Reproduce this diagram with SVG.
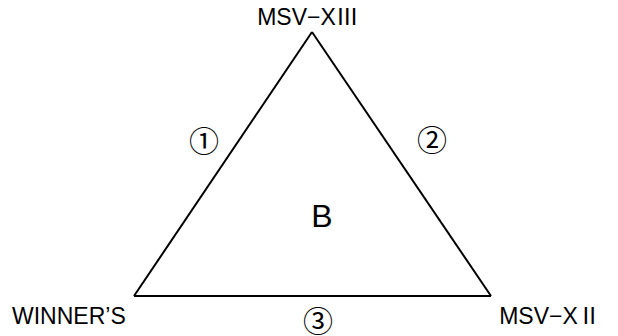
<svg xmlns="http://www.w3.org/2000/svg" width="618" height="336" viewBox="0 0 618 336">
<style>
text{font-family:"Liberation Sans","Noto Sans CJK JP",sans-serif;fill:#000;font-size:23px}
.c{font-family:"Noto Sans CJK JP",sans-serif;font-size:30px}
.r{font-family:"Noto Sans CJK JP",sans-serif}
.e{fill:none;stroke:#000;stroke-width:2}
</style>
<rect width="618" height="336" fill="#fff"/>
<g id="connectors">
<path class="e" d="M312,32 L134,296"/>
<path class="e" d="M312,32 L491,296"/>
<path class="e" d="M134,296 L491,296"/>
</g>
<g id="top"><text x="308" y="25" text-anchor="middle">MSV−X<tspan class="r">Ⅲ</tspan></text></g>
<g id="left"><text x="12" y="324">WINNER’S</text></g>
<g id="right"><text x="550" y="324" text-anchor="middle">MSV−X<tspan class="r">Ⅱ</tspan></text></g>
<g id="e1"><text class="c" x="204" y="152" text-anchor="middle">①</text></g>
<g id="e2"><text class="c" x="432" y="151" text-anchor="middle">②</text></g>
<g id="e3"><text class="c" x="318" y="332" text-anchor="middle">③</text></g>
<g id="center"><text x="322" y="227" text-anchor="middle" style="font-size:32px">B</text></g>
</svg>
